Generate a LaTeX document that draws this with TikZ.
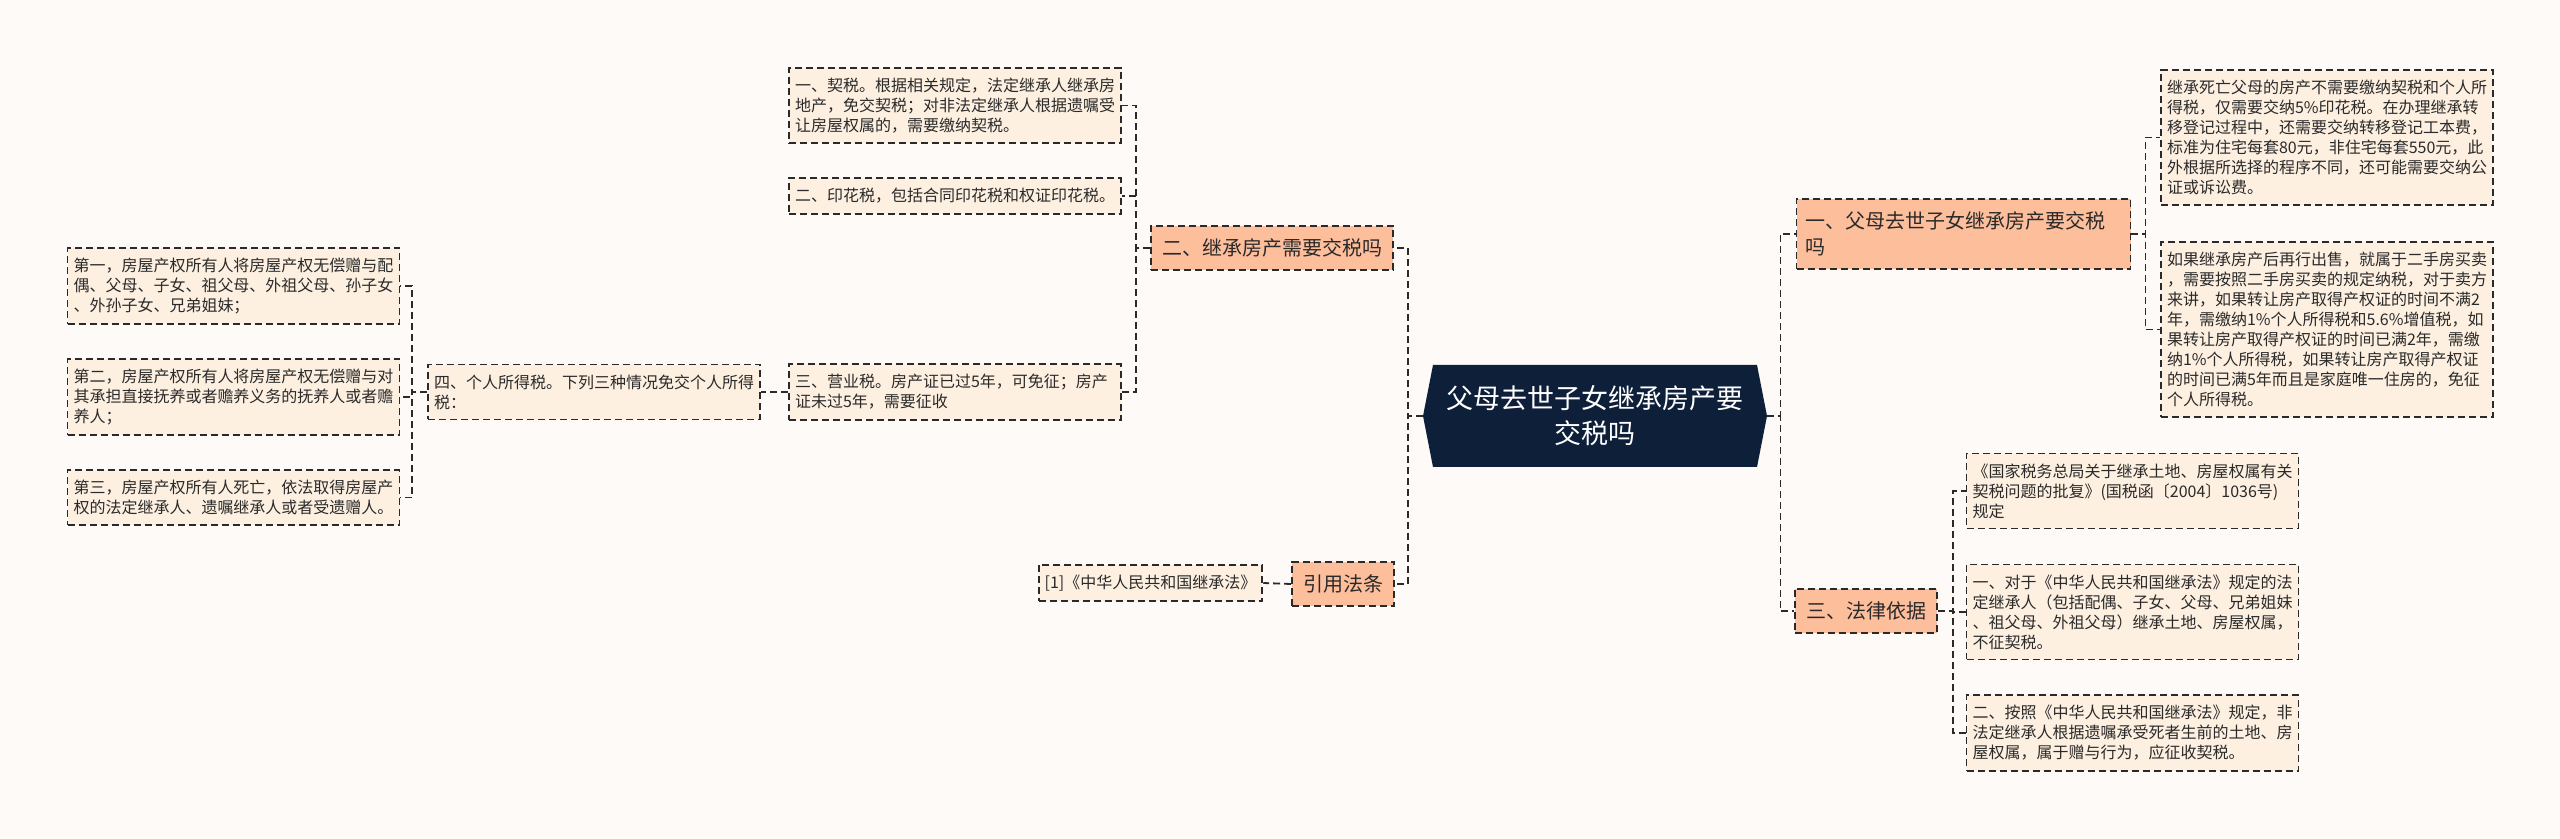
\documentclass[tikz,border=0pt]{standalone}
\usepackage{fontspec}
\setmainfont{Noto Sans CJK SC}
\definecolor{pagebg}{HTML}{FDFAF8}
\definecolor{leaffill}{HTML}{FDF0E1}
\definecolor{branchfill}{HTML}{FDBE9C}
\definecolor{rootfill}{HTML}{0E1F3A}
\definecolor{ink}{HTML}{2A2A2A}

\begin{document}
\begin{tikzpicture}[x=0.5pt, y=-0.5pt,
  link/.style={draw=ink, line width=0.9pt, dash pattern=on 3.5pt off 2pt},
  leaf/.style={draw=ink, fill=leaffill, line width=0.9pt, dash pattern=on 3.5pt off 2pt,
    text=ink, font=\fontsize{8}{10}\selectfont, align=left, text width=160pt,
    inner xsep=3pt, inner ysep=5pt},
  branch/.style={draw=ink, fill=branchfill, line width=0.9pt, dash pattern=on 3.5pt off 2pt,
    text=ink, font=\fontsize{10}{13}\selectfont, inner xsep=5.5pt, inner ysep=6.5pt},
  rootbox/.style={text=white, font=\fontsize{13.5}{17.5}\selectfont, align=center,
    minimum width=172pt, minimum height=51pt, inner sep=0pt}]
  \fill[pagebg] (0,0) rectangle (2560,839);
  % centre topic, hexagon drawn first so the text sits on it
  \fill[rootfill] (1423,416) -- (1433,365) -- (1757,365) -- (1767,416)
    -- (1757,467) -- (1433,467) -- cycle;
  \node[rootbox] (root) at (1595,416) {父母去世子女继承房产要\\交税吗};
  % main branches
  \node[branch, align=left, text width=158pt, inner xsep=4.5pt] (b1) at (1963.5,234)
    {一、父母去世子女继承房产要交税\\吗};
  \node[branch] (b2) at (1272,248) {二、继承房产需要交税吗};
  \node[branch] (b3) at (1866,611) {三、法律依据};
  \node[branch] (b4) at (1343,584) {引用法条};
  % right leaves
  \node[leaf] (r1) at (2327,137.5) {继承死亡父母的房产不需要缴纳契税和个人所\\
    得税，仅需要交纳5\%印花税。在办理继承转\\移登记过程中，还需要交纳转移登记工本费，\\
    标准为住宅每套80元，非住宅每套550元，此\\外根据所选择的程序不同，还可能需要交纳公\\
    证或诉讼费。};
  \node[leaf] (r2) at (2327,329.5) {如果继承房产后再行出售，就属于二手房买卖\\
    ，需要按照二手房买卖的规定纳税，对于卖方\\来讲，如果转让房产取得产权证的时间不满2\\
    年，需缴纳1\%个人所得税和5.6\%增值税，如\\果转让房产取得产权证的时间已满2年，需缴\\
    纳1\%个人所得税，如果转让房产取得产权证\\的时间已满5年而且是家庭唯一住房的，免征\\
    个人所得税。};
  \node[leaf] (r3) at (2132.5,491) {《国家税务总局关于继承土地、房屋权属有关\\
    契税问题的批复》(国税函〔2004〕1036号)\\规定};
  \node[leaf] (r4) at (2132.5,612) {一、对于《中华人民共和国继承法》规定的法\\
    定继承人（包括配偶、子女、父母、兄弟姐妹\\、祖父母、外祖父母）继承土地、房屋权属，\\
    不征契税。};
  \node[leaf] (r5) at (2132.5,733) {二、按照《中华人民共和国继承法》规定，非\\
    法定继承人根据遗嘱承受死者生前的土地、房\\屋权属，属于赠与行为，应征收契税。};
  % left leaves
  \node[leaf] (l1) at (955,105.5) {一、契税。根据相关规定，法定继承人继承房\\
    地产，免交契税；对非法定继承人根据遗嘱受\\让房屋权属的，需要缴纳契税。};
  \node[leaf] (l2) at (955,196) {二、印花税，包括合同印花税和权证印花税。};
  \node[leaf] (l3) at (955,392) {三、营业税。房产证已过5年，可免征；房产\\
    证未过5年，需要征收};
  \node[leaf] (l4) at (594,392) {四、个人所得税。下列三种情况免交个人所得\\税：};
  \node[leaf] (l5) at (233.5,286) {第一，房屋产权所有人将房屋产权无偿赠与配\\
    偶、父母、子女、祖父母、外祖父母、孙子女\\、外孙子女、兄弟姐妹；};
  \node[leaf] (l6) at (233.5,397) {第二，房屋产权所有人将房屋产权无偿赠与对\\
    其承担直接抚养或者赡养义务的抚养人或者赡\\养人；};
  \node[leaf] (l7) at (233.5,497.5) {第三，房屋产权所有人死亡，依法取得房屋产\\
    权的法定继承人、遗嘱继承人或者受遗赠人。};
  \node[leaf, text width={}] (l8) at (1150.5,583) {[1]《中华人民共和国继承法》};
  % connectors
  \draw[link] (root.east) -- ++(13,0) |- (b1.west);
  \draw[link] (root.east) -- ++(13,0) |- (b3.west);
  \draw[link] (root.west) -- ++(-15,0) |- (b2.east);
  \draw[link] (root.west) -- ++(-15,0) |- (b4.east);
  \draw[link] (b1.east) -- ++(14,0) |- (r1.west);
  \draw[link] (b1.east) -- ++(14,0) |- (r2.west);
  \draw[link] (b3.east) -- ++(15,0) |- (r3.west);
  \draw[link] (b3.east) -- ++(15,0) |- (r4.west);
  \draw[link] (b3.east) -- ++(15,0) |- (r5.west);
  \draw[link] (b2.west) -- ++(-14,0) |- (l1.east);
  \draw[link] (b2.west) -- ++(-14,0) |- (l2.east);
  \draw[link] (b2.west) -- ++(-14,0) |- (l3.east);
  \draw[link] (l3.west) -- (l4.east);
  \draw[link] (l4.west) -- ++(-15,0) |- (l5.east);
  \draw[link] (l4.west) -- ++(-15,0) |- (l6.east);
  \draw[link] (l4.west) -- ++(-15,0) |- (l7.east);
  \draw[link] (b4.west) -- (l8.east);
\end{tikzpicture}
\end{document}
